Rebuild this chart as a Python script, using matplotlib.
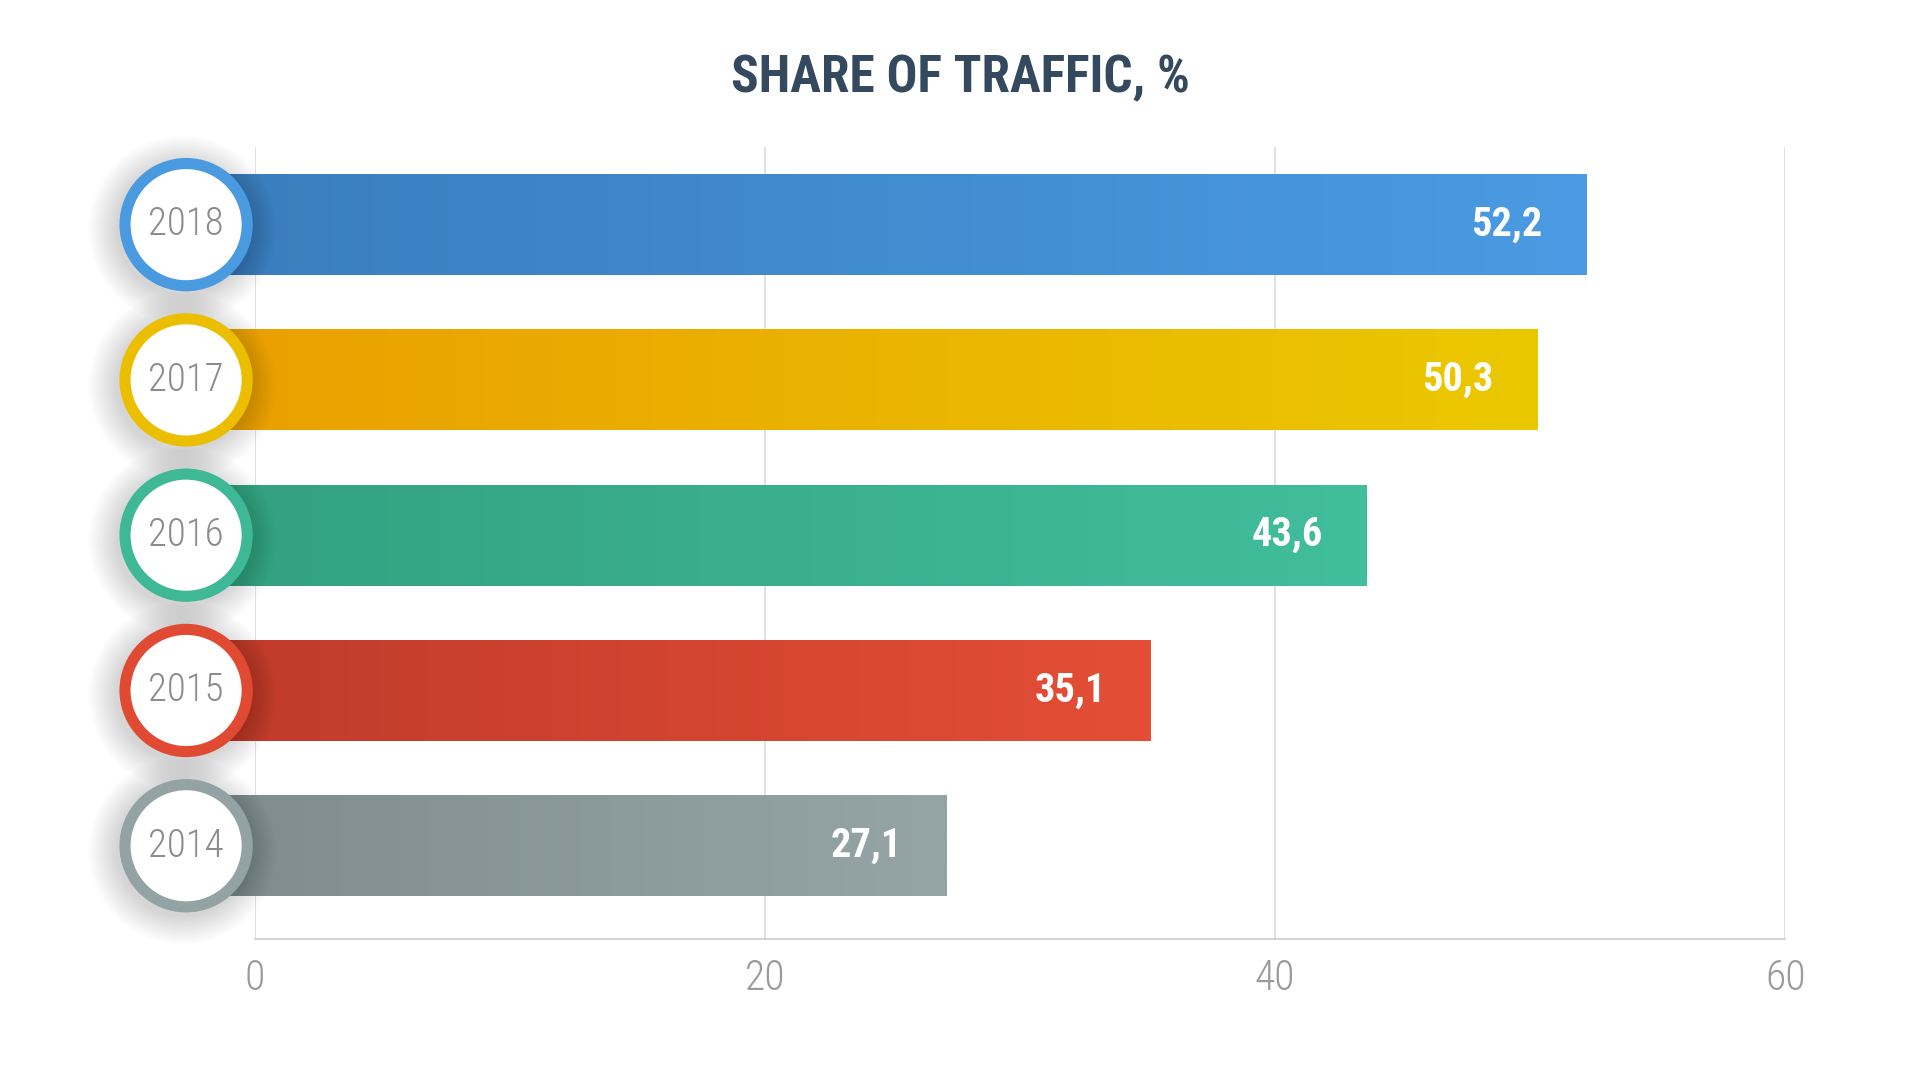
import matplotlib.pyplot as plt
import numpy as np
from matplotlib.colors import LinearSegmentedColormap

years = ["2014", "2015", "2016", "2017", "2018"]
values = [27.1, 35.1, 43.6, 50.3, 52.2]
labels = ["27,1", "35,1", "43,6", "50,3", "52,2"]
left_colors = ["#7f8c8d", "#bf3a2a", "#33a080", "#eb9f00", "#3a7dbd"]
right_colors = ["#95a5a6", "#e44e36", "#41be9c", "#eac800", "#4a9be3"]
ring_colors = ["#93a3a4", "#e04a32", "#3fb896", "#ebbe00", "#4a9ae0"]
ticks = [0, 20, 40, 60]

narrow = ["Roboto Condensed", "Liberation Sans Narrow", "DejaVu Sans Condensed", "DejaVu Sans"]
plt.rcParams["font.family"] = narrow

fig = plt.figure(figsize=(19.2, 10.8), dpi=100)
ax = fig.add_axes([0.1328, 0.1306, 0.797, 0.7333])

ypos = np.arange(len(years))
bar_start = -2.7
bars = ax.barh(ypos, [v - bar_start for v in values], left=bar_start, height=0.65,
               color=right_colors, zorder=2)

# horizontal gradient inside each bar
grad = np.linspace(0, 1, 256).reshape(1, -1)
for b, c0, c1 in zip(bars, left_colors, right_colors):
    cmap = LinearSegmentedColormap.from_list("g", [c0, c1])
    x0, y0, w, h = b.get_x(), b.get_y(), b.get_width(), b.get_height()
    im = ax.imshow(grad, extent=[x0, x0 + w, y0, y0 + h], aspect="auto",
                   cmap=cmap, zorder=3, interpolation="bilinear")
    im.set_clip_path(b)

# circles with soft shadow
cx = bar_start
for k in range(14):
    s = (96 + 3 * k) ** 2
    ax.scatter([cx - 0.15] * len(ypos), ypos - 0.03, s=s, color="#000000",
               alpha=0.010, linewidths=0, zorder=4, clip_on=False)
ax.scatter([cx] * len(ypos), ypos, s=88 ** 2, facecolor="white",
           edgecolor=ring_colors, linewidths=8, zorder=5, clip_on=False)

for y, yr in zip(ypos, years):
    ax.text(cx, y, yr, ha="center", va="center", fontsize=28, color="#8c8c8c",
            fontweight="light", zorder=6, clip_on=False)

for y, v, lab in zip(ypos, values, labels):
    ax.annotate(lab, (v, y), xytext=(-32, 0), textcoords="offset points",
                ha="right", va="center", fontsize=29, fontweight="bold",
                color="white", zorder=6)

ax.set_xlim(0, 60)
ax.set_ylim(-0.6, 4.5)
ax.set_xticks(ticks)
ax.set_yticks([])
ax.grid(axis="x", color="#dcdcdc", linewidth=1.2, zorder=0)
for sp in ["top", "left", "right"]:
    ax.spines[sp].set_visible(False)
ax.spines["bottom"].set_color("#c8cccc")
ax.spines["bottom"].set_linewidth(1.2)
ax.tick_params(axis="x", length=0, pad=14, labelsize=30, labelcolor="#9a9a9a")
for t in ax.get_xticklabels():
    t.set_fontweight("light")

fig.text(0.5, 0.927, "SHARE OF TRAFFIC, %", ha="center", va="center",
         fontsize=37, fontweight="bold", color="#34495e")

fig.savefig("out.png", dpi=100, facecolor="white")
